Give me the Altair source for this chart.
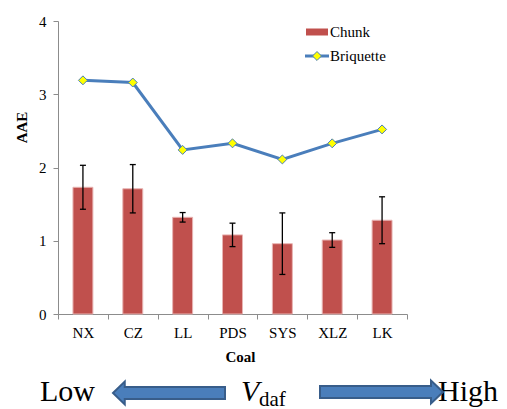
import altair as alt
import pandas as pd

coal = ["NX", "CZ", "LL", "PDS", "SYS", "XLZ", "LK"]
chunk = [1.73, 1.71, 1.32, 1.08, 0.96, 1.01, 1.28]
chunk_err = [0.30, 0.33, 0.065, 0.16, 0.42, 0.10, 0.32]
briquette = [3.19, 3.16, 2.24, 2.33, 2.11, 2.33, 2.52]
series = ["Chunk", "Briquette"]
y_ticks = [0, 1, 2, 3, 4]

df = pd.DataFrame({"Coal": coal, "Chunk": chunk, "err": chunk_err, "Briquette": briquette})
df["lo"] = df["Chunk"] - df["err"]
df["hi"] = df["Chunk"] + df["err"]

SERIF = "'Liberation Serif', 'Times New Roman', 'DejaVu Serif', serif"
RED = "#C0504D"
BLUE = "#4A7EBB"

xaxis = alt.Axis(title="Coal", labelAngle=0, tickBand="extent", titleX=182, titleY=42,
                 titleBaseline="middle", titleAlign="center", labelPadding=6)
yaxis = alt.Axis(title="AAE", values=y_ticks, titleX=-37, titleY=106, titleAngle=-90,
                 titleBaseline="middle", titleAlign="center", labelPadding=7)
xenc = alt.X("Coal:N", sort=coal, scale=alt.Scale(paddingInner=0, paddingOuter=0), axis=xaxis)
yscale = alt.Scale(domain=[0, 4], nice=False)


def Y(field):
    return alt.Y(f"{field}:Q", scale=yscale, axis=yaxis)


base = alt.Chart(df)

bars = base.mark_bar(width=alt.RelativeBandSize(0.4), color=RED, stroke="#E8B4B3",
                     strokeWidth=1).encode(x=xenc, y=Y("Chunk"))
err = base.mark_rule(color="black", strokeWidth=1.3).encode(x=xenc, y=Y("lo"), y2="hi:Q")
cap_hi = base.mark_tick(orient="horizontal", size=6, thickness=1.3, color="black",
                        opacity=1).encode(x=xenc, y=Y("hi"))
cap_lo = base.mark_tick(orient="horizontal", size=6, thickness=1.3, color="black",
                        opacity=1).encode(x=xenc, y=Y("lo"))
line = base.mark_line(color=BLUE, strokeWidth=3).encode(x=xenc, y=Y("Briquette"))
pts = base.mark_point(shape="diamond", filled=True, fill="#FFFF00", stroke=BLUE,
                      strokeWidth=1, size=80, opacity=1).encode(x=xenc, y=Y("Briquette"))

one = pd.DataFrame({"k": [0]})

# legend (drawn)
leg_rect = alt.Chart(one).mark_rect(color=RED).encode(
    x=alt.value(248), x2=alt.value(270), y=alt.value(7.5), y2=alt.value(14.5))
leg_line = alt.Chart(one).mark_rule(color=BLUE, strokeWidth=3).encode(
    x=alt.value(247), x2=alt.value(271), y=alt.value(35))
leg_pt = alt.Chart(one).mark_point(shape="diamond", filled=True, fill="#FFFF00", stroke=BLUE,
                                   strokeWidth=1, size=80, opacity=1).encode(
    x=alt.value(259), y=alt.value(35))


def txt(s, xv, yv, size, style="normal"):
    return alt.Chart(one).mark_text(text=s, font=SERIF, fontSize=size, fontStyle=style,
                                    fontWeight="normal", align="left", baseline="alphabetic",
                                    color="black").encode(x=alt.value(xv), y=alt.value(yv))


leg_t1 = txt(series[0], 272, 16, 15)
leg_t2 = txt(series[1], 272, 40, 15)

# bottom annotation
t_low = txt("Low", -18, 380, 30)
t_v = txt("V", 183, 380, 30, "italic")
t_daf = txt("daf", 201, 384.5, 21)
t_high = txt("High", 380, 380, 30)

left_path = "M -1 0 L -0.79 -0.205 L -0.79 -0.107 L 1 -0.107 L 1 0.107 L -0.79 0.107 L -0.79 0.205 Z"
right_path = "M 1 0 L 0.805 -0.187 L 0.805 -0.098 L -1 -0.098 L -1 0.098 L 0.805 0.098 L 0.805 0.187 Z"
arr_l = alt.Chart(one).mark_point(shape=left_path, filled=True, fill=BLUE, stroke="#385D8A",
                                  strokeWidth=2, size=112 ** 2, opacity=1).encode(
    x=alt.value(111), y=alt.value(372))
arr_r = alt.Chart(one).mark_point(shape=right_path, filled=True, fill=BLUE, stroke="#385D8A",
                                  strokeWidth=2, size=123 ** 2, opacity=1).encode(
    x=alt.value(323.5), y=alt.value(371))

chart = alt.layer(
    bars, err, cap_hi, cap_lo, line, pts,
    leg_rect, leg_line, leg_pt, leg_t1, leg_t2,
    t_low, t_v, t_daf, t_high, arr_l, arr_r,
).properties(
    width=349, height=293,
    autosize=alt.AutoSizeParams(type="none"),
    padding={"left": 50, "top": 13, "right": 92, "bottom": 95},
    background="white",
).configure_view(stroke=None).configure_axis(
    labelFont=SERIF, labelFontSize=15, labelColor="black",
    titleFont=SERIF, titleFontSize=15, titleFontWeight="bold", titleColor="black",
    domainColor="#8C8C8C", tickColor="#8C8C8C", tickSize=5, grid=False,
)

chart.save("out.html", embed_options={"renderer": "svg", "actions": False})
